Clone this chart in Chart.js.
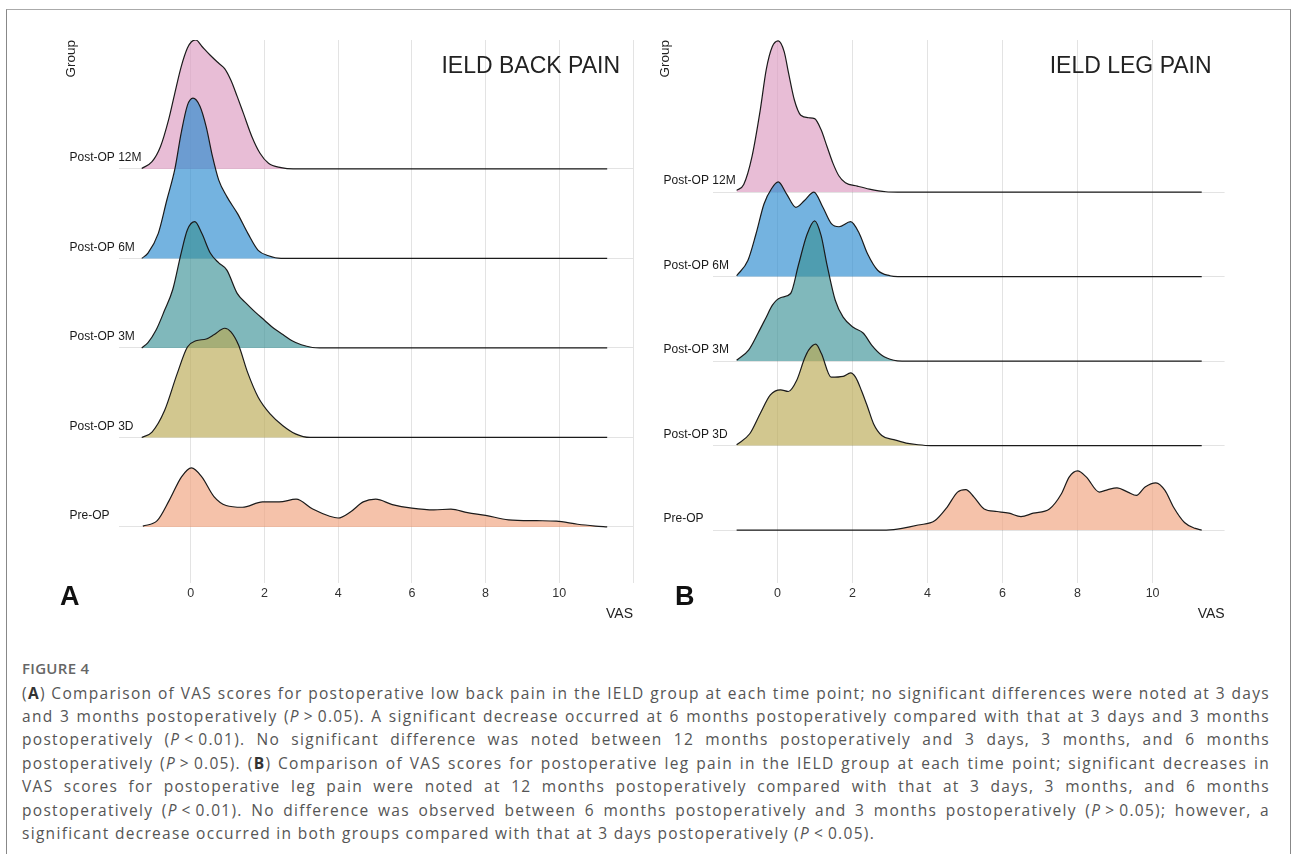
<!DOCTYPE html>
<html>
<head>
<meta charset="utf-8">
<script src="https://cdn.jsdelivr.net/npm/chart.js@4.4.1/dist/chart.umd.min.js"></script>
<style>
  html, body { margin: 0; padding: 0; background: #fff; }
  body { width: 1292px; height: 854px; position: relative; overflow: hidden;
         font-family: 'Liberation Sans', Arial, sans-serif; }
  #frame { position: absolute; left: 6px; top: 9px; width: 1283px; height: 900px;
           border: 1.5px solid #888; border-top-color: #aaa; }
  .panel { position: absolute; top: 0; width: 646px; height: 630px; }
  #wrapA { left: 0; }
  #wrapB { left: 646px; }
  #figlabel { position: absolute; left: 22px; top: 658px; line-height: 20px; letter-spacing: 0.3px;
              font: 600 15px 'Open Sans', sans-serif; color: #666; }
  #caption { position: absolute; left: 22px; top: 681.6px; width: 1248px; letter-spacing: 1.3px;
             font: 15.5px 'Open Sans', sans-serif; line-height: 23.4px; color: #555; }
  #caption .ln { text-align: justify; text-align-last: justify; }
  #caption .ln.last { text-align-last: left; }
  #caption b { color: #333; }
</style>
</head>
<body>
<div id="frame"></div>
<div class="panel" id="wrapA"><canvas id="chartA" width="646" height="630"></canvas></div>
<div class="panel" id="wrapB"><canvas id="chartB" width="646" height="630"></canvas></div>
<div id="figlabel">FIGURE 4</div>
<div id="caption">
  <div class="ln">(<b>A</b>) Comparison of VAS scores for postoperative low back pain in the IELD group at each time point; no significant differences were noted at 3 days</div>
  <div class="ln">and 3 months postoperatively (<i>P</i>&#8201;&gt;&#8201;0.05). A significant decrease occurred at 6 months postoperatively compared with that at 3 days and 3 months</div>
  <div class="ln">postoperatively (<i>P</i>&#8201;&lt;&#8201;0.01). No significant difference was noted between 12 months postoperatively and 3 days, 3 months, and 6 months</div>
  <div class="ln">postoperatively (<i>P</i>&#8201;&gt;&#8201;0.05). (<b>B</b>) Comparison of VAS scores for postoperative leg pain in the IELD group at each time point; significant decreases in</div>
  <div class="ln">VAS scores for postoperative leg pain were noted at 12 months postoperatively compared with that at 3 days, 3 months, and 6 months</div>
  <div class="ln">postoperatively (<i>P</i>&#8201;&lt;&#8201;0.01). No difference was observed between 6 months postoperatively and 3 months postoperatively (<i>P</i>&#8201;&gt;&#8201;0.05); however, a</div>
  <div class="ln last">significant decrease occurred in both groups compared with that at 3 days postoperatively (<i>P</i>&#8201;&lt;&#8201;0.05).</div>
</div>

<script>
/* ─── Data (density heights, 1 = one row spacing) ───────────────────────── */
const GROUPS = ['Pre-OP', 'Post-OP 3D', 'Post-OP 3M', 'Post-OP 6M', 'Post-OP 12M'];
const ROWS   = [0, 1, 2, 3, 4];
const X_TICKS_A = [0, 2, 4, 6, 8, 10, 12];
const X_TICKS_B = [0, 2, 4, 6, 8, 10];
const FILLS = ['rgba(240,161,124,0.65)', 'rgba(186,169,83,0.65)', 'rgba(60,146,150,0.65)',
               'rgba(41,138,207,0.65)', 'rgba(220,153,192,0.65)'];

// A: back pain
const BACK_PRE_X = [-1.3, -0.91, -0.58, -0.25, 0.02, 0.3, 0.63, 0.96, 1.4, 1.95, 2.4, 2.86, 3.31, 3.77, 4.0, 4.34, 4.68, 5.02, 5.47, 6.0, 6.6, 7.06, 7.51, 8.0, 8.62, 9.38, 9.92, 10.5, 10.98, 11.3];
const BACK_PRE_Y = [0.01, 0.07, 0.30, 0.56, 0.66, 0.56, 0.34, 0.24, 0.22, 0.28, 0.28, 0.31, 0.20, 0.12, 0.10, 0.17, 0.28, 0.31, 0.25, 0.21, 0.19, 0.20, 0.16, 0.13, 0.08, 0.07, 0.065, 0.03, 0.01, 0];
const BACK_3D_X = [-1.33, -1.05, -0.71, -0.37, -0.09, 0.14, 0.42, 0.64, 0.92, 1.09, 1.3, 1.54, 1.83, 2.16, 2.5, 2.84, 3.24, 11.3];
const BACK_3D_Y = [0, 0.06, 0.30, 0.71, 1.01, 1.08, 1.10, 1.15, 1.22, 1.18, 1.03, 0.73, 0.45, 0.26, 0.13, 0.04, 0, 0];
const BACK_3M_X = [-1.33, -1.16, -0.94, -0.71, -0.49, -0.26, -0.09, 0.11, 0.3, 0.53, 0.76, 0.98, 1.26, 1.5, 1.75, 2.0, 2.25, 2.5, 2.75, 3.0, 3.3, 3.5, 11.3];
const BACK_3M_Y = [0, 0.06, 0.2, 0.42, 0.65, 1.06, 1.32, 1.41, 1.28, 1.06, 0.95, 0.87, 0.61, 0.5, 0.4, 0.31, 0.22, 0.15, 0.08, 0.035, 0.005, 0, 0];
const BACK_6M_X = [-1.33, -1.16, -0.88, -0.65, -0.43, -0.26, -0.09, 0.06, 0.25, 0.42, 0.59, 0.76, 0.98, 1.27, 1.55, 1.83, 2.11, 2.45, 11.3];
const BACK_6M_Y = [0, 0.06, 0.28, 0.65, 1.0, 1.40, 1.71, 1.79, 1.70, 1.47, 1.14, 0.875, 0.69, 0.50, 0.28, 0.09, 0.03, 0, 0];
const BACK_12M_X = [-1.33, -1.05, -0.82, -0.6, -0.43, -0.26, -0.09, 0.02, 0.14, 0.3, 0.53, 0.76, 0.92, 1.09, 1.26, 1.43, 1.66, 1.88, 2.11, 2.45, 2.78, 11.3];
const BACK_12M_Y = [0.005, 0.08, 0.25, 0.55, 0.85, 1.14, 1.35, 1.42, 1.44, 1.37, 1.27, 1.18, 1.12, 0.99, 0.81, 0.62, 0.36, 0.175, 0.063, 0.015, 0, 0];

// B: leg pain
const LEG_PRE_X = [-1.09, 2.9, 3.1, 3.32, 3.75, 4.19, 4.52, 4.8, 5.02, 5.24, 5.51, 5.85, 6.17, 6.49, 6.82, 7.25, 7.57, 7.78, 8.0, 8.23, 8.58, 8.81, 9.05, 9.34, 9.57, 9.8, 10.09, 10.33, 10.56, 10.85, 11.14, 11.31];
const LEG_PRE_Y = [0, 0, 0.005, 0.02, 0.06, 0.11, 0.27, 0.45, 0.48, 0.39, 0.25, 0.22, 0.20, 0.16, 0.20, 0.25, 0.43, 0.63, 0.70, 0.63, 0.45, 0.48, 0.50, 0.45, 0.41, 0.51, 0.56, 0.47, 0.27, 0.09, 0.02, 0];
const LEG_3D_X = [-1.09, -0.74, -0.46, -0.19, 0.08, 0.29, 0.51, 0.72, 0.83, 1.02, 1.17, 1.43, 1.75, 1.95, 2.08, 2.24, 2.4, 2.56, 2.78, 3.1, 3.43, 3.75, 4.08, 11.31];
const LEG_3D_Y = [0.01, 0.14, 0.38, 0.60, 0.66, 0.64, 0.77, 1.03, 1.13, 1.20, 1.09, 0.81, 0.82, 0.86, 0.81, 0.65, 0.46, 0.26, 0.12, 0.07, 0.03, 0.01, 0, 0];
const LEG_3M_X = [-1.09, -0.77, -0.52, -0.3, -0.14, 0.08, 0.35, 0.56, 0.78, 0.99, 1.16, 1.32, 1.54, 1.75, 2.02, 2.29, 2.51, 2.78, 3.1, 3.32, 11.31];
const LEG_3M_Y = [0.01, 0.13, 0.33, 0.52, 0.66, 0.75, 0.80, 1.14, 1.49, 1.66, 1.49, 1.14, 0.72, 0.52, 0.40, 0.33, 0.19, 0.07, 0.01, 0, 0];
const LEG_6M_X = [-1.09, -0.79, -0.57, -0.36, -0.16, 0.02, 0.24, 0.49, 0.72, 0.97, 1.21, 1.43, 1.64, 1.95, 2.18, 2.4, 2.67, 3.0, 3.21, 11.31];
const LEG_6M_Y = [0.01, 0.19, 0.51, 0.86, 1.04, 1.12, 0.98, 0.82, 0.90, 1.00, 0.82, 0.63, 0.59, 0.65, 0.51, 0.27, 0.075, 0.01, 0, 0];
const LEG_12M_X = [-1.09, -0.9, -0.68, -0.46, -0.3, -0.14, 0.02, 0.18, 0.29, 0.45, 0.62, 0.83, 0.99, 1.16, 1.32, 1.48, 1.64, 1.81, 2.13, 2.45, 2.89, 3.2, 11.31];
const LEG_12M_Y = [0.02, 0.09, 0.42, 0.97, 1.45, 1.72, 1.79, 1.66, 1.42, 1.09, 0.91, 0.88, 0.87, 0.74, 0.54, 0.34, 0.19, 0.11, 0.07, 0.035, 0.004, 0, 0];

/* ─── Helpers ─────────────────────────────────────────────────────────────── */
const FONT = "'Liberation Sans', Arial, sans-serif";
const GRID = 'rgba(0,0,0,0.11)';

const ridgeText = {
  id: 'ridgeText',
  afterDraw(chart, args, opts) {
    const { ctx, chartArea, scales: { y } } = chart;
    ctx.save();
    ctx.fillStyle = '#1a1a1a';
    ctx.font = '12px ' + FONT;
    ctx.textAlign = 'left';
    ctx.textBaseline = 'middle';
    GROUPS.forEach((g, i) => ctx.fillText(g, chartArea.left - 49, y.getPixelForValue(ROWS[i]) - 11));
    ctx.font = '23px ' + FONT;
    ctx.textAlign = 'right';
    ctx.fillStyle = '#222';
    ctx.fillText(opts.title, chartArea.right - 13, 67);
    ctx.font = 'bold 27px ' + FONT;
    ctx.textAlign = 'left';
    ctx.fillStyle = '#111';
    ctx.fillText(opts.letter, opts.letterX, 598);
    ctx.restore();
  },
};

function ridgeChart(id, series, o) {
  const datasets = series.map(([xs, ys], i) => ({
    label: GROUPS[i],
    data: xs.map((x, k) => ({ x, y: ROWS[i] + ys[k] })),
    borderColor: '#1b1b1b', borderWidth: 1.2,
    backgroundColor: FILLS[i],
    fill: { value: ROWS[i] },
    pointRadius: 0, cubicInterpolationMode: 'monotone',
    order: ROWS[i],
  }));
  return new Chart(document.getElementById(id), {
    type: 'line',
    data: { datasets },
    options: {
      responsive: false, animation: false, devicePixelRatio: 1,
      layout: { padding: { left: o.padLeft, right: o.padRight, top: 40, bottom: 7 } },
      plugins: { legend: { display: false }, tooltip: { enabled: false }, ridgeText: o },
      scales: {
        x: {
          type: 'linear', min: o.xMin, max: o.xMax,
          afterBuildTicks: s => { s.ticks = o.xTicks.map(v => ({ value: v })); },
          afterFit: s => { s.height = 40; },
          grid: { color: GRID, drawTicks: false },
          border: { display: false },
          ticks: { padding: 3, color: '#333', font: { family: FONT, size: 12.5 },
                   maxRotation: 0, autoSkip: false, callback: v => (v <= 10 ? v : '') },
          title: { display: true, text: 'VAS', align: 'end', color: '#222',
                   font: { family: FONT, size: 14 }, padding: { top: 0, bottom: 0.5 } },
        },
        y: {
          type: 'linear', min: -0.626, max: o.yMax,
          afterBuildTicks: s => { s.ticks = ROWS.map(v => ({ value: v })); },
          afterFit: s => { s.width = 58.5; },
          grid: { color: GRID, drawTicks: false },
          border: { display: false },
          ticks: { display: false },
          title: { display: true, text: 'Group', align: 'end', color: '#222',
                   font: { family: FONT, size: 13.5 }, padding: { top: 3, bottom: 0 } },
        },
      },
    },
    plugins: [ridgeText],
  });
}

ridgeChart('chartA', [
  [BACK_PRE_X, BACK_PRE_Y], [BACK_3D_X, BACK_3D_Y], [BACK_3M_X, BACK_3M_Y],
  [BACK_6M_X, BACK_6M_Y], [BACK_12M_X, BACK_12M_Y],
], { padLeft: 60, padRight: 13, xMin: -1.96, xMax: 12, yMax: 5.44, xTicks: X_TICKS_A,
     title: 'IELD BACK PAIN', letter: 'A', letterX: 60 });

ridgeChart('chartB', [
  [LEG_PRE_X, LEG_PRE_Y], [LEG_3D_X, LEG_3D_Y], [LEG_3M_X, LEG_3M_Y],
  [LEG_6M_X, LEG_6M_Y], [LEG_12M_X, LEG_12M_Y],
], { padLeft: 8.1, padRight: 67.4, xMin: -1.73, xMax: 11.92, yMax: 5.80, xTicks: X_TICKS_B,
     title: 'IELD LEG PAIN', letter: 'B', letterX: 29 });
</script>
</body>
</html>
